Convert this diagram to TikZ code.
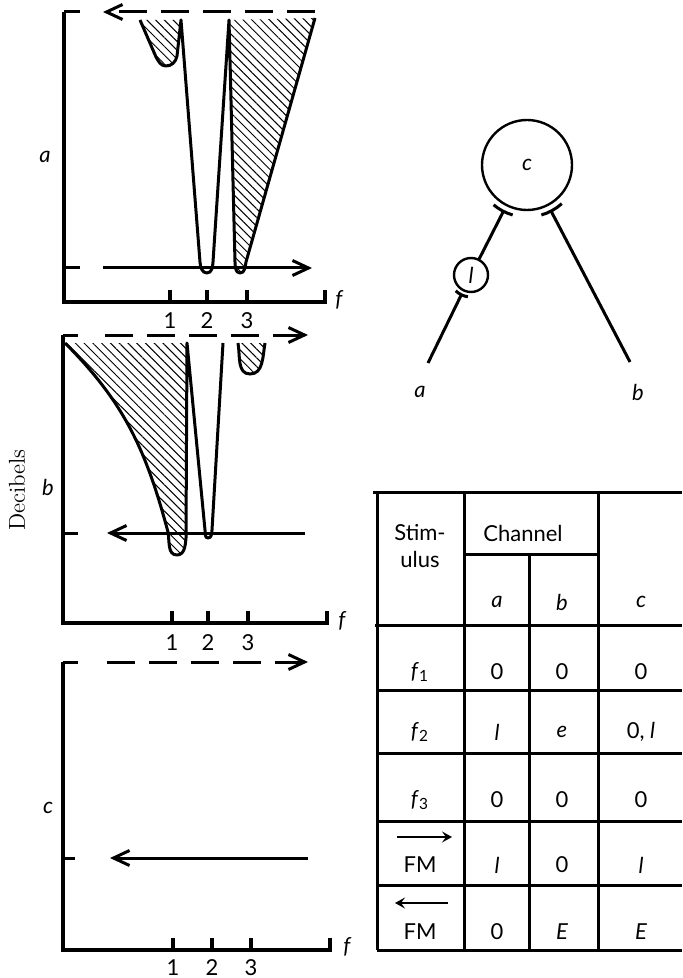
\documentclass[tikz,border=0pt]{standalone}
\usepackage{fontspec}
\setsansfont{Lato}
\usepackage{tikz}
\usetikzlibrary{arrows.meta,calc,patterns.meta}

\begin{document}
\begin{tikzpicture}[x=0.5pt,y=-0.5pt,
    line width=1.5pt,
    ax/.style={line width=1.6pt},
    dsh/.style={dash pattern=on 14pt off 7pt},
    barbtip/.style={-{Straight Barb[length=8pt,width=7.5pt]}},
    fmarrow/.style={line width=1.1pt, -{Stealth[length=5pt,width=5.5pt,inset=2pt]}},
    hatch/.style={pattern={Lines[angle=-45,distance=3.1pt,line width=0.5pt]}},
    lbl/.style={font=\sffamily\itshape\fontsize{11}{13}\selectfont},
    ticknum/.style={font=\sffamily\fontsize{11}{13}\selectfont},
    cell/.style={font=\sffamily\fontsize{11}{13.5}\selectfont, align=center},
    ring/.style={circle, draw, line width=1.2pt, inner sep=0pt, outer sep=0pt},
  ]
  \useasboundingbox (0,0) rectangle (682,978);

  % Decibels
  \node[rotate=90, font=\rmfamily\fontsize{11.5}{13}\selectfont] (db) at (17,490) {Decibels};

  % Panel a
  \draw[ax] (64,12) -- (64,302) -- (325,302) -- (325,290);
  \foreach \x/\n in {170/1,207/2,247/3} {
    \draw[ax] (\x,302) -- (\x,290);
    \node[ticknum] (ta\n) at (\x,321) {\n};
  }
  \node[lbl] (fa) at (339,300) {f};
  \node[lbl] (la) at (45,157) {a};
  \draw (64,12) -- (80,12);
  \draw[dsh, barbtip] (315,12) -- (103,12);
  \draw (64,268) -- (80,268);
  \draw[barbtip] (103,268) -- (312,268);
  \fill[hatch] (140,20) -- (156,57) to[out=-60,in=180] (166,66) to[out=0,in=-100] (177,56) -- (181,20) -- cycle;
  \fill[hatch] (229,20) -- (235,262) to[out=-86,in=180] (240,273) to[out=0,in=-100] (246,262) -- (315,18) -- cycle;
  \draw[line join=round] (140,20) -- (156,57) to[out=-60,in=180] (166,66) to[out=0,in=-100] (177,56)
    -- (181,20) -- (200,262) to[out=-86,in=180] (207,273) to[out=0,in=-94] (213,262)
    -- (229,20) -- (235,262) to[out=-86,in=180] (240,273) to[out=0,in=-100] (246,262) -- (315,18);

  % Panel b
  \draw[ax] (63,335) -- (63,623) -- (327,623) -- (327,611);
  \foreach \x/\n in {172/1,208/2,248/3} {
    \draw[ax] (\x,623) -- (\x,611);
    \node[ticknum] (tb\n) at (\x,643) {\n};
  }
  \node[lbl] (fb) at (342,621) {f};
  \node[lbl] (lb) at (48,487) {b};
  \draw (63,335) -- (78,335);
  \draw[dsh, barbtip] (105,335) -- (308,335);
  \draw (63,533) -- (78,533);
  \draw[barbtip] (305,533) -- (107,533);
  \fill[hatch] (65,343) to[out=-45,in=105] (168,532) to[out=-80,in=180] (177,555) to[out=0,in=-95] (186,538) -- (187,343) -- cycle;
  \fill[hatch] (238,343) to[out=-80,in=180] (250,374) to[out=0,in=-100] (265,343) -- cycle;
  \draw[line join=round] (65,343) to[out=-45,in=105] (168,532) to[out=-80,in=180] (177,555) to[out=0,in=-95] (186,538)
    -- (187,343) -- (205,530) to[out=-86,in=180] (208,538) to[out=0,in=-94] (212,530) -- (223,343);
  \draw (238,343) to[out=-80,in=180] (250,374) to[out=0,in=-100] (265,343);

  % Panel c
  \draw[ax] (63,662) -- (63,950) -- (330,950) -- (330,938);
  \foreach \x/\n in {173/1,212/2,251/3} {
    \draw[ax] (\x,950) -- (\x,938);
    \node[ticknum] (tc\n) at (\x,968) {\n};
  }
  \node[lbl] (fc) at (347,947) {f};
  \node[lbl] (lc) at (48,808) {c};
  \draw (63,662) -- (78,662);
  \draw[dsh, barbtip] (107,662) -- (308,662);
  \draw (63,858) -- (75,858);
  \draw[barbtip] (308,858) -- (110,858);

  % channels
  \node[ring, minimum size=45pt, lbl] (cn) at (527,165) {c};
  \node[ring, minimum size=17pt, lbl] (ln) at (471,275) {l};
  \coordinate (ea) at (428,363);
  \coordinate (eb) at (630,362);
  \node[lbl] (na) at (420,392) {a};
  \node[lbl] (nb) at (638,392) {b};
  \draw[shorten >=2pt] (ea) -- (ln);
  \draw[shorten >=3pt] (ln) -- (cn);
  \draw[shorten >=3pt] (eb) -- (cn);
  \draw ([shift={(226:11pt)}]ln.center) arc[start angle=226, end angle=262, radius=11pt];
  \draw ([shift={(230:26pt)}]cn.center) arc[start angle=230, end angle=254, radius=26pt];
  \draw ([shift={(286:26pt)}]cn.center) arc[start angle=286, end angle=312, radius=26pt];

  % table
  \draw (373,492) -- (682,492);
  \draw (377,492) -- (377,950);
  \draw (464,492) -- (464,950);
  \draw (598,492) -- (598,950);
  \draw (529,554) -- (529,950);
  \draw (464,554) -- (598,554);
  \draw (375,625) -- (682,625);
  \foreach \y in {690,753,821,885,950} \draw (377,\y) -- (682,\y);
  \node[cell] (stim) at (420,546) {Stim-\\ulus};
  \node[cell] (chan) at (523,533) {Channel};
  \node[lbl] (ha) at (497,602) {a};
  \node[lbl] (hb) at (562,602) {b};
  \node[lbl] (hc) at (641,602) {c};
  \foreach \y/\s/\a/\b/\c [count=\i] in {
      672/{\textit{f}\textsubscript{1}}/0/0/0,
      732/{\textit{f}\textsubscript{2}}/{\textit{l}}/{\textit{e}}/{0, \textit{l}},
      800/{\textit{f}\textsubscript{3}}/0/0/0,
      865/FM/{\textit{l}}/0/{\textit{l}},
      932/FM/0/{\textit{E}}/{\textit{E}}} {
    \node[cell] (s\i) at (420,\y) {\s};
    \node[cell] (a\i) at (497,\y) {\a};
    \node[cell] (b\i) at (562,\y) {\b};
    \node[cell] (c\i) at (641,\y) {\c};
  }
  \draw[fmarrow] ([shift={(-23,-28)}]s4.center) -- ([shift={(32,-28)}]s4.center);
  \draw[fmarrow] ([shift={(28,-29)}]s5.center) -- ([shift={(-25,-29)}]s5.center);
\end{tikzpicture}
\end{document}
